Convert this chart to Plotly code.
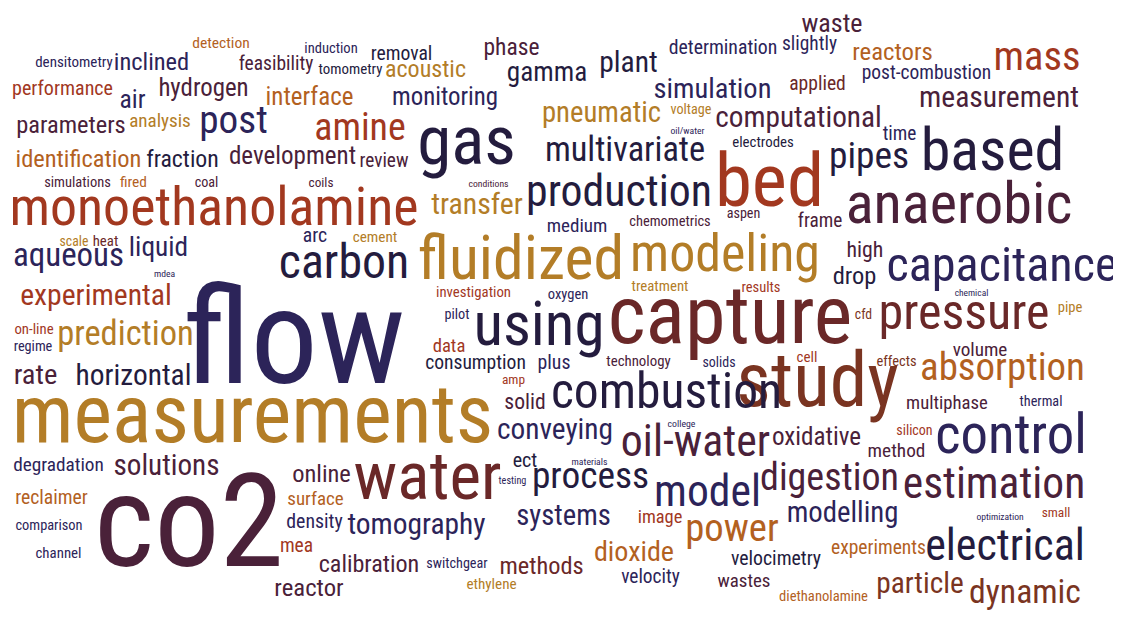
import plotly.graph_objects as go

words = [
    "waste", "detection", "densitometry", "inclined", "feasibility", "induction", "removal", "tomometry", "acoustic", "phase",
    "gamma", "plant", "determination", "slightly", "reactors", "mass", "post-combustion", "applied", "measurement", "simulation",
    "performance", "air", "hydrogen", "interface", "monitoring", "pneumatic", "voltage", "oil/water", "computational", "time",
    "parameters", "analysis", "post", "amine", "gas", "multivariate", "electrodes", "bed", "pipes", "based",
    "identification", "fraction", "development", "review", "simulations", "fired", "coal", "coils", "conditions", "monoethanolamine",
    "transfer", "production", "anaerobic", "medium", "chemometrics", "aspen", "frame", "fluidized", "modeling", "high",
    "capacitance", "drop", "aqueous", "scale", "heat", "liquid", "mdea", "arc", "cement", "carbon",
    "flow", "experimental", "on-line", "regime", "prediction", "rate", "horizontal", "measurements", "investigation", "oxygen",
    "treatment", "results", "chemical", "using", "pilot", "capture", "cfd", "pressure", "pipe", "data",
    "consumption", "plus", "technology", "solids", "cell", "study", "volume", "effects", "absorption", "amp",
    "solid", "combustion", "multiphase", "thermal", "conveying", "college", "oil-water", "oxidative", "silicon", "method",
    "control", "degradation", "solutions", "co2", "water", "ect", "testing", "process", "materials", "model",
    "digestion", "estimation", "online", "surface", "reclaimer", "comparison", "channel", "systems", "density", "tomography",
    "mea", "image", "power", "modelling", "optimization", "small", "calibration", "switchgear", "methods", "dioxide",
    "velocimetry", "experiments", "electrical", "reactor", "ethylene", "velocity", "wastes", "diethanolamine", "particle", "dynamic",
]
x_left = [
    802, 193, 36, 115, 240, 305, 371, 319, 386, 484,
    507, 600, 670, 783, 853, 994, 863, 790, 920, 655,
    13, 120, 159, 267, 393, 543, 671, 671, 717, 883,
    17, 130, 200, 315, 418, 547, 733, 716, 830, 922,
    17, 147, 230, 360, 45, 120, 195, 309, 469, 13,
    432, 528, 848, 547, 630, 727, 798, 420, 632, 847,
    889, 833, 14, 60, 93, 130, 154, 303, 353, 280,
    183, 22, 15, 14, 59, 14, 77, 15, 437, 548,
    632, 742, 955, 475, 445, 610, 855, 880, 1058, 433,
    426, 538, 607, 703, 797, 738, 953, 877, 922, 502,
    505, 553, 907, 1020, 498, 668, 623, 773, 897, 868,
    937, 14, 115, 95, 355, 513, 499, 533, 572, 655,
    762, 905, 293, 288, 16, 16, 36, 517, 287, 348,
    280, 638, 686, 788, 977, 1042, 320, 427, 500, 595,
    732, 832, 928, 275, 467, 622, 718, 780, 878, 970,
]
x_right = [
    862, 249, 112, 188, 312, 357, 432, 382, 465, 539,
    587, 657, 776, 836, 932, 1080, 990, 845, 1078, 770,
    112, 145, 248, 352, 497, 660, 711, 704, 880, 916,
    125, 190, 267, 405, 515, 703, 793, 823, 908, 1063,
    140, 218, 355, 408, 110, 147, 218, 333, 508, 415,
    522, 710, 1070, 607, 710, 760, 842, 622, 818, 883,
    1115, 876, 123, 88, 118, 187, 175, 327, 397, 408,
    405, 170, 53, 52, 192, 57, 190, 490, 510, 588,
    688, 780, 988, 603, 469, 850, 872, 1048, 1082, 465,
    525, 570, 670, 735, 817, 897, 1007, 916, 1083, 525,
    545, 780, 987, 1062, 612, 695, 768, 860, 932, 925,
    1085, 103, 218, 283, 500, 537, 526, 648, 607, 760,
    897, 1083, 350, 343, 87, 82, 81, 610, 342, 485,
    313, 682, 778, 897, 1023, 1070, 418, 487, 583, 673,
    820, 925, 1082, 343, 516, 679, 770, 867, 962, 1080,
]
baseline = [
    33, 49, 68, 71, 71, 54, 61, 75, 78, 56,
    82, 73, 55, 51, 61, 72, 80, 91, 108, 99,
    96, 109, 97, 106, 106, 123, 115, 134, 128, 141,
    134, 128, 135, 142, 167, 163, 148, 210, 170, 173,
    168, 168, 165, 168, 188, 188, 188, 188, 187, 228,
    215, 208, 226, 233, 227, 219, 228, 282, 274, 258,
    283, 285, 268, 247, 247, 257, 277, 243, 243, 280,
    390, 306, 335, 352, 347, 385, 386, 446, 298, 300,
    292, 293, 296, 348, 320, 347, 320, 332, 313, 353,
    370, 370, 367, 368, 363, 410, 357, 367, 382, 385,
    410, 410, 410, 407, 440, 427, 458, 446, 436, 458,
    456, 472, 476, 573, 502, 468, 485, 490, 465, 508,
    492, 500, 483, 506, 505, 531, 559, 526, 529, 535,
    553, 524, 543, 523, 520, 518, 573, 569, 575, 562,
    566, 555, 562, 597, 590, 584, 588, 602, 594, 605,
]
tone = [
    "P", "O", "N", "N", "P", "N", "D", "D", "G", "P",
    "D", "D", "N", "N", "O", "R", "N", "M", "P", "N",
    "R", "N", "P", "O", "N", "G", "G", "N", "P", "N",
    "P", "G", "N", "R", "D", "D", "D", "R", "D", "D",
    "O", "D", "P", "P", "P", "O", "P", "P", "P", "R",
    "G", "D", "P", "N", "P", "P", "P", "G", "G", "P",
    "N", "D", "N", "G", "M", "N", "N", "N", "G", "D",
    "N", "R", "R", "N", "G", "P", "D", "G", "R", "N",
    "G", "R", "N", "D", "N", "M", "B", "M", "G", "R",
    "D", "N", "P", "N", "R", "B", "P", "B", "O", "R",
    "P", "D", "P", "N", "N", "N", "P", "P", "R", "P",
    "N", "N", "P", "P", "M", "D", "N", "D", "N", "N",
    "P", "P", "P", "O", "O", "N", "N", "N", "N", "N",
    "R", "R", "O", "N", "N", "R", "P", "N", "M", "O",
    "D", "O", "D", "P", "G", "N", "P", "O", "B", "B",
]

palette = {
    "N": "#2c2459", "D": "#241c3e", "P": "#4a2139", "M": "#6a2828",
    "R": "#a2381f", "O": "#b3611f", "G": "#b37d27", "B": "#7a3421",
}

assert len(words) == len(x_left) == len(x_right) == len(baseline) == len(tone)

# Approximate advance widths (units of 1/2048 em) of Roboto; the condensed cut is ~0.886 as wide
adv = dict(a=1089, b=1122, c=1046, d=1125, e=1058, f=695, g=1122, h=1102, i=486, j=478, k=1014,
           l=486, m=1752, n=1104, o=1141, p=1122, q=1131, r=678, s=1031, t=655, u=1102, v=969,
           w=1502, x=991, y=946, z=991)
adv.update({"-": 553, "/": 824, "2": 1150})
CONDENSED = 0.886
FILL = 1.0
MID_BASE = 0.25   # plotly puts the baseline 0.25 em below a "middle" text anchor


def em_width(w):
    return sum(adv.get(ch, 1100) for ch in w) * CONDENSED / 2048.0


sizes, xs, ys, cols = [], [], [], []
for w, l, r, b, t in zip(words, x_left, x_right, baseline, tone):
    s = FILL * (r - l) / em_width(w)
    sizes.append(s)
    xs.append((l + r) / 2.0)
    ys.append(b - 0.05 * s - MID_BASE * s)
    cols.append(palette[t])

# the page has an 8px body margin, so the plot area is placed to keep page pixels == data units
PAGE_OFF = 8
W, H = 1121, 617

fig = go.Figure(go.Scatter(
    x=xs, y=ys, mode="text", text=words, textposition="middle center",
    textfont=dict(family="Roboto Condensed, sans-serif", size=sizes, color=cols),
    hoverinfo="skip", cliponaxis=False,
))
fig.update_layout(
    width=W - PAGE_OFF, height=H - PAGE_OFF, margin=dict(l=0, r=0, t=0, b=0),
    paper_bgcolor="white", plot_bgcolor="white", showlegend=False,
    xaxis=dict(range=[PAGE_OFF, W], visible=False, fixedrange=True),
    yaxis=dict(range=[H, PAGE_OFF], visible=False, fixedrange=True),
)
fig.write_html("out.html")
